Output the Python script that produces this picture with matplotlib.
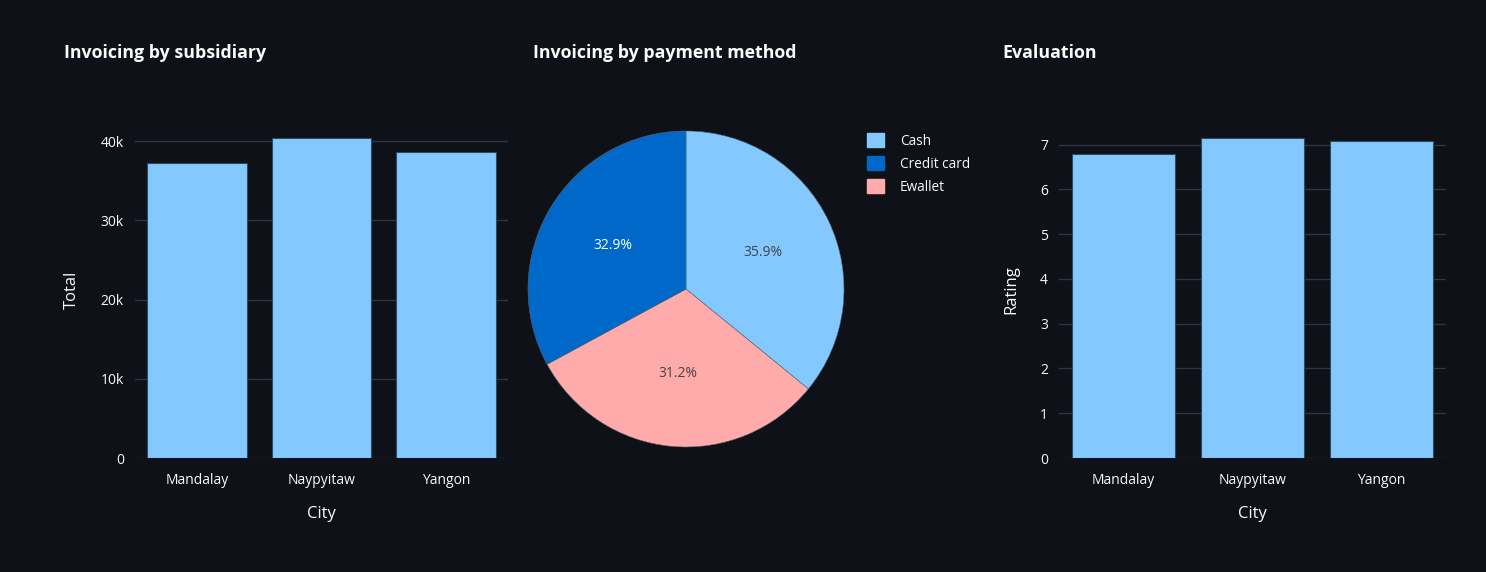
import matplotlib.pyplot as plt
import matplotlib.patches as mpatches
from matplotlib.ticker import FuncFormatter

cities = ['Mandalay', 'Naypyitaw', 'Yangon']
city_totals = [37190, 40420, 38650]
city_ratings = [6.80, 7.15, 7.07]

methods = ['Cash', 'Credit card', 'Ewallet']
method_share = [35.9, 32.9, 31.2]
method_colors = ['#83c9ff', '#0068c9', '#ffabab']

bg = '#0e1117'
fg = '#fafafa'
grid = '#31333f'
bar_color = '#83c9ff'

plt.rcParams['font.family'] = ['Open Sans', 'DejaVu Sans']

W, H = 1486, 572
fig = plt.figure(figsize=(W / 100, H / 100), dpi=100)
fig.patch.set_facecolor(bg)


def px_axes(x0, y0, x1, y1):
    return fig.add_axes([x0 / W, 1 - y1 / H, (x1 - x0) / W, (y1 - y0) / H])


def style_bar(ax, ylabel):
    ax.set_facecolor(bg)
    for s in ax.spines.values():
        s.set_visible(False)
    ax.tick_params(length=0, colors=fg, labelsize=10)
    ax.tick_params(axis='y', pad=8)
    ax.tick_params(axis='x', pad=11)
    ax.yaxis.grid(True, color=grid, linewidth=1)
    ax.set_axisbelow(True)
    ax.set_xlim(-0.5, 2.5)
    ax.set_xlabel('City', color=fg, fontsize=12, labelpad=13)
    ax.set_ylabel(ylabel, color=fg, fontsize=12, labelpad=15)


# invoicing by subsidiary
ax1 = px_axes(135, 121, 508, 458)
ax1.bar(cities, city_totals, width=0.8, color=bar_color, edgecolor='#2b4a66', linewidth=0.8)
ax1.set_ylim(0, max(city_totals) * 1.0526)
ax1.set_yticks([0, 10000, 20000, 30000, 40000])
ax1.yaxis.set_major_formatter(FuncFormatter(lambda v, p: '0' if v == 0 else f'{int(v / 1000)}k'))
style_bar(ax1, 'Total')

# evaluation
ax3 = px_axes(1059, 121, 1446, 458)
ax3.bar(cities, city_ratings, width=0.8, color=bar_color, edgecolor='#2b4a66', linewidth=0.8)
ax3.set_ylim(0, max(city_ratings) * 1.0526)
ax3.set_yticks(range(0, 8))
style_bar(ax3, 'Rating')

# pie by payment method (drawn clockwise: Cash, Ewallet, Credit card)
ax2 = px_axes(528, 131, 844, 447)
ax2.set_facecolor(bg)
order = [0, 2, 1]
wedges, texts, autotexts = ax2.pie(
    [method_share[i] for i in order],
    colors=[method_colors[i] for i in order],
    startangle=90, counterclock=False,
    autopct='%.1f%%', pctdistance=0.54,
    wedgeprops=dict(edgecolor='#5a6470', linewidth=0.4),
    textprops=dict(fontsize=10),
)
for t, i in zip(autotexts, order):
    t.set_color('white' if i == 1 else '#444444')
ax2.set_xlim(-1, 1)
ax2.set_ylim(-1, 1)
ax2.set_aspect('equal')

handles = [mpatches.Patch(color=c, label=m) for m, c in zip(methods, method_colors)]
leg = fig.legend(handles=handles, loc='upper left', bbox_to_anchor=(855 / W, 1 - 121 / H),
                 frameon=False, fontsize=9.8, labelcolor=fg, handlelength=1.2,
                 handleheight=1.2, handletextpad=1.2, labelspacing=0.55)

# titles
for x, title in [(64, 'Invoicing by subsidiary'), (533, 'Invoicing by payment method'),
                 (1002, 'Evaluation')]:
    fig.text(x / W, 1 - 53 / H, title, color=fg, fontsize=12.8, fontweight='bold', va='center')

fig.savefig('out.png', dpi=100, facecolor=bg)
